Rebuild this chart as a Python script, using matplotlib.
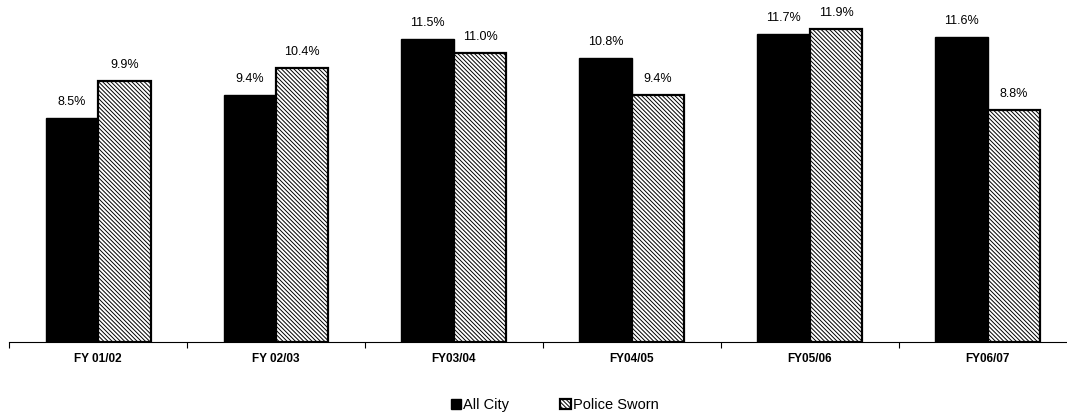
import matplotlib
matplotlib.use("Agg")
import matplotlib.pyplot as plt
import numpy as np

plt.rcParams['font.family'] = ['Liberation Sans', 'DejaVu Sans']
plt.rcParams['hatch.linewidth'] = 0.7

years = ['FY 01/02', 'FY 02/03', 'FY03/04', 'FY04/05', 'FY05/06', 'FY06/07']
all_city = [8.5, 9.4, 11.5, 10.8, 11.7, 11.6]
police_sworn = [9.9, 10.4, 11.0, 9.4, 11.9, 8.8]

fig = plt.figure(figsize=(10.67, 4.19), dpi=100)
ax = fig.add_axes([0.0085, 0.184, 0.9915, 0.81])

x = np.arange(len(years))
w = 0.295
b1 = ax.bar(x - w/2, all_city, w, color='black', edgecolor='black', label='All City')
b2 = ax.bar(x + w/2, police_sworn, w, color='white', edgecolor='black',
            hatch='\\' * 8, linewidth=1.6, label='Police Sworn')

for i in range(len(years)):
    ax.text(x[i] - w/2, all_city[i] + 0.38, '%.1f%%' % all_city[i],
            ha='center', va='bottom', fontsize=9)
    ax.text(x[i] + w/2, police_sworn[i] + 0.38, '%.1f%%' % police_sworn[i],
            ha='center', va='bottom', fontsize=9)

ax.set_xlim(-0.5, 5.445)
ax.set_ylim(0, 12.9)
ax.set_xticks(x)
ax.set_xticklabels(years, fontsize=8.5, fontweight='bold')
ax.tick_params(axis='x', which='major', length=0, pad=8)
ax.set_xticks(np.arange(-0.5, 5.45, 1), minor=True)
ax.tick_params(axis='x', which='minor', length=4, width=0.8, direction='out')
ax.set_yticks([])
for s in ['left', 'right', 'top']:
    ax.spines[s].set_visible(False)
ax.spines['bottom'].set_linewidth(0.8)

fig.legend(handles=[b1, b2], loc='lower center', bbox_to_anchor=(0.52, -0.015), ncol=2,
           frameon=False, fontsize=10.5, handlelength=0.7, handleheight=0.7,
           handletextpad=0.15, columnspacing=3.5)

plt.savefig('out.png', dpi=100)
